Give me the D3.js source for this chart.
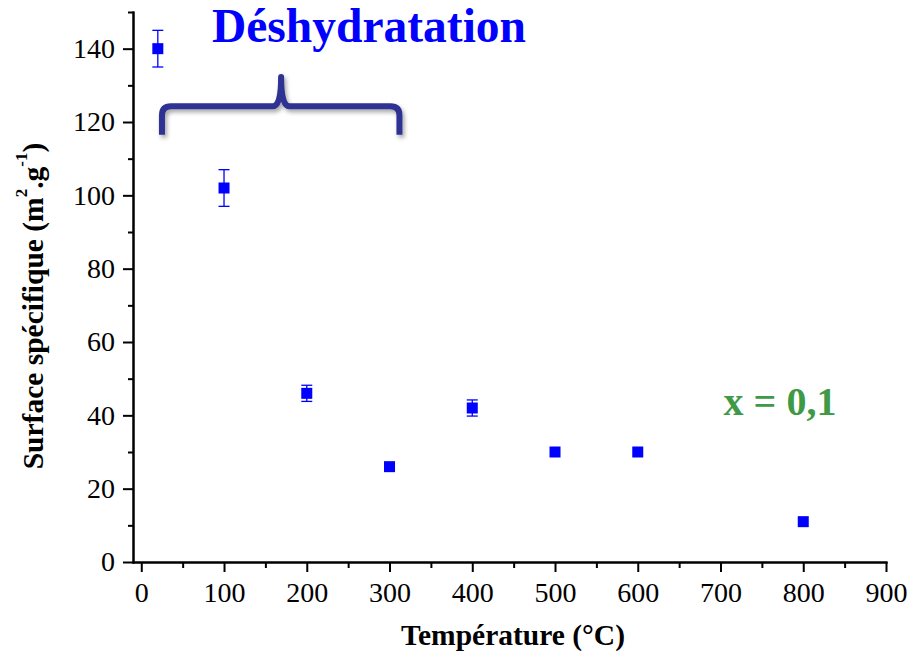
<!DOCTYPE html>
<html>
<head>
<meta charset="utf-8">
<script src="https://cdn.jsdelivr.net/npm/d3@7"></script>
<style>
  body { margin: 0; background: #fff; }
  svg { display: block; }
  .axis path, .axis line { stroke: #000; stroke-width: 2; }
  .axis text { font-family: "Liberation Serif", "Times New Roman", serif; font-size: 28px; fill: #000; }
</style>
</head>
<body>
<svg id="chart" width="909" height="654"></svg>
<script>
// data
const temperatures = [20, 100, 200, 300, 400, 500, 600, 800];
const surfaces = [140, 102, 46, 26, 42, 30, 30, 11];
const errors = [5, 5, 2.2, 0, 2.2, 0, 0, 0];

const xTicks = [0, 100, 200, 300, 400, 500, 600, 700, 800, 900];
const xMinorTicks = [50, 150, 250, 350, 450, 550, 650, 750, 850];
const yTicks = [0, 20, 40, 60, 80, 100, 120, 140];
const yMinorTicks = [10, 30, 50, 70, 90, 110, 130, 150];

// brace annotation (data units)
const braceFrom = 25, braceTo = 312, braceTip = 169;
const braceBottom = 116.5, braceLevel = 124.3, braceTop = 132.3;

const svg = d3.select("#chart");

const x = d3.scaleLinear().domain([-10, 900]).range([133, 886]);
const y = d3.scaleLinear().domain([0, 150]).range([562, 12]);

// axes
svg.append("g")
    .attr("class", "axis")
    .attr("transform", "translate(0,562)")
    .call(d3.axisBottom(x).tickValues(xMinorTicks).tickSize(6).tickSizeOuter(0).tickFormat(""));
svg.append("g")
    .attr("class", "axis")
    .attr("transform", "translate(0,562)")
    .call(d3.axisBottom(x).tickValues(xTicks).tickSize(10).tickSizeOuter(0).tickPadding(10));

svg.append("g")
    .attr("class", "axis")
    .attr("transform", "translate(133,0)")
    .call(d3.axisLeft(y).tickValues(yMinorTicks).tickSize(5).tickSizeOuter(0).tickFormat(""));
svg.append("g")
    .attr("class", "axis")
    .attr("transform", "translate(133,0)")
    .call(d3.axisLeft(y).tickValues(yTicks).tickSize(10).tickSizeOuter(0).tickPadding(8));

svg.selectAll(".axis path.domain").attr("stroke-linecap", "square");

// axis titles
svg.append("text")
    .attr("x", 513)
    .attr("y", 645)
    .attr("text-anchor", "middle")
    .style("font-family", "Liberation Serif, serif")
    .style("font-weight", "bold")
    .style("font-size", "29.5px")
    .text("Température (°C)");

const yLabel = svg.append("text")
    .attr("transform", "translate(43,306) rotate(-90)")
    .attr("text-anchor", "middle")
    .style("font-family", "Liberation Serif, serif")
    .style("font-weight", "bold")
    .style("font-size", "29.5px");
yLabel.append("tspan").text("Surface spécifique (m");
yLabel.append("tspan").attr("dy", -16).style("font-size", "17px").text("2");
yLabel.append("tspan").attr("dy", 16).text(".g");
yLabel.append("tspan").attr("dy", -16).style("font-size", "17px").text("-1");
yLabel.append("tspan").attr("dy", 16).text(")");

// error bars
const pts = temperatures.map((t, i) => ({ t: t, s: surfaces[i], e: errors[i] }));
const withErr = pts.filter(d => d.e > 0);
const cap = 5.5;

const eb = svg.append("g").attr("stroke", "#0000ff").attr("stroke-width", 1.3);
eb.selectAll("line.v")
    .data(withErr)
    .enter().append("line")
    .attr("x1", d => x(d.t)).attr("x2", d => x(d.t))
    .attr("y1", d => y(d.s - d.e)).attr("y2", d => y(d.s + d.e));
eb.selectAll("line.top")
    .data(withErr)
    .enter().append("line")
    .attr("x1", d => x(d.t) - cap).attr("x2", d => x(d.t) + cap)
    .attr("y1", d => y(d.s + d.e)).attr("y2", d => y(d.s + d.e));
eb.selectAll("line.bot")
    .data(withErr)
    .enter().append("line")
    .attr("x1", d => x(d.t) - cap).attr("x2", d => x(d.t) + cap)
    .attr("y1", d => y(d.s - d.e)).attr("y2", d => y(d.s - d.e));

// markers
const size = 11;
svg.append("g")
    .selectAll("rect")
    .data(pts)
    .enter().append("rect")
    .attr("x", d => x(d.t) - size / 2)
    .attr("y", d => y(d.s) - size / 2)
    .attr("width", size)
    .attr("height", size)
    .attr("fill", "#0000ff");

// brace with a soft shadow
const defs = svg.append("defs");
const f = defs.append("filter").attr("id", "shadow").attr("x", "-10%").attr("y", "-30%").attr("width", "130%").attr("height", "180%");
f.append("feDropShadow").attr("dx", 2).attr("dy", 3).attr("stdDeviation", 2).attr("flood-color", "#000").attr("flood-opacity", 0.35);

const xl = x(braceFrom), xr = x(braceTo), xm = x(braceTip);
const yb = y(braceBottom), yh = y(braceLevel), yt = y(braceTop);
const r = 9;
const bracePath = `M${xl},${yb} L${xl},${yh + r} Q${xl},${yh} ${xl + r},${yh} L${xm - 8},${yh} Q${xm},${yh} ${xm},${yt}` +
    ` Q${xm},${yh} ${xm + 8},${yh} L${xr - r},${yh} Q${xr},${yh} ${xr},${yh + r} L${xr},${yb}`;
svg.append("path")
    .attr("d", bracePath)
    .attr("fill", "none")
    .attr("stroke", "#2e3192")
    .attr("stroke-width", 6)
    .attr("stroke-linejoin", "round")
    .attr("filter", "url(#shadow)");

// annotations
svg.append("text")
    .attr("x", 369)
    .attr("y", 42)
    .attr("text-anchor", "middle")
    .style("font-family", "Liberation Serif, serif")
    .style("font-weight", "bold")
    .style("font-size", "47.5px")
    .attr("fill", "#0000ff")
    .text("Déshydratation");

svg.append("text")
    .attr("x", 780)
    .attr("y", 415)
    .attr("text-anchor", "middle")
    .style("font-family", "Liberation Serif, serif")
    .style("font-weight", "bold")
    .style("font-size", "40px")
    .attr("fill", "#3e9a47")
    .text("x = 0,1");
</script>
</body>
</html>
